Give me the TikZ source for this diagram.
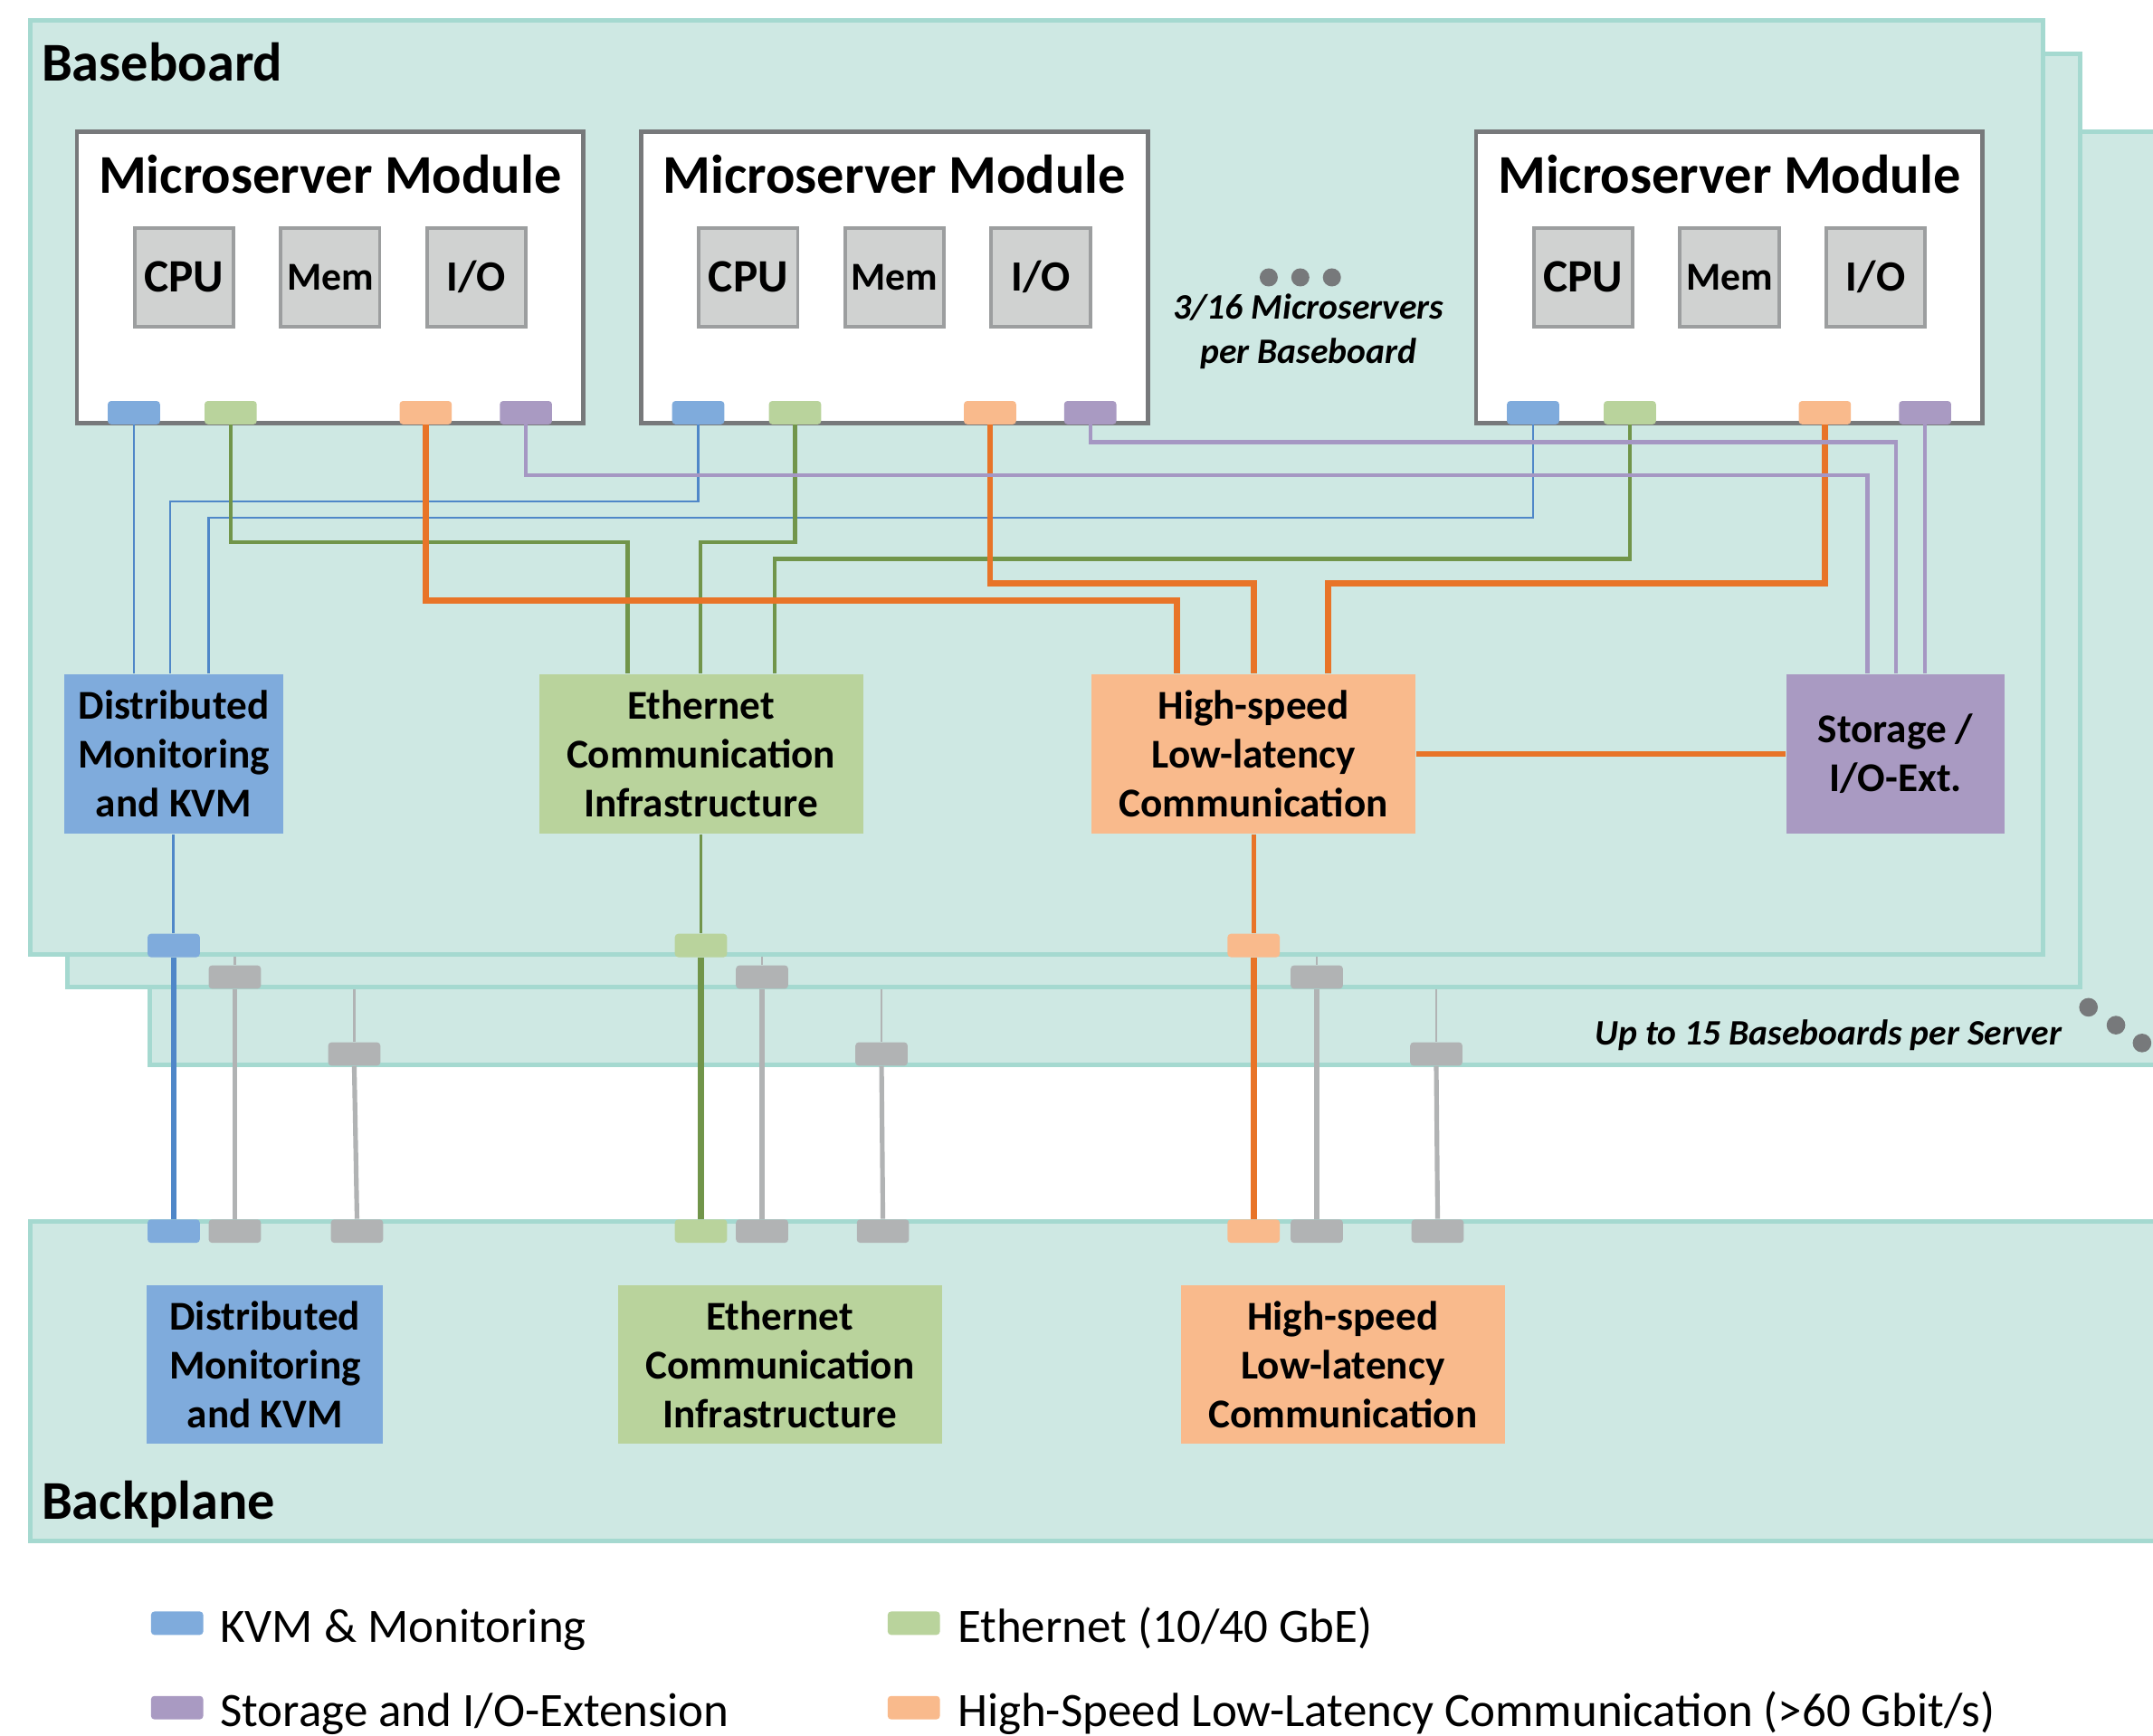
\documentclass[tikz,border=0pt]{standalone}
\usepackage{fontspec}
\setmainfont{Carlito}
\definecolor{boardfill}{HTML}{CEE8E3}
\definecolor{boardline}{HTML}{A5D9D0}
\definecolor{modline}{HTML}{77797B}
\definecolor{chipfill}{HTML}{D0D2D1}
\definecolor{chipline}{HTML}{9C9E9F}
\definecolor{kvmfill}{HTML}{7FABDC}
\definecolor{kvmline}{HTML}{4F87C8}
\definecolor{ethfill}{HTML}{B9D39C}
\definecolor{ethline}{HTML}{71954A}
\definecolor{hsfill}{HTML}{F9BA8C}
\definecolor{hsline}{HTML}{E87428}
\definecolor{stfill}{HTML}{A99AC2}
\definecolor{stline}{HTML}{A597C3}
\definecolor{grayconn}{HTML}{B1B3B4}
\definecolor{dotgray}{HTML}{77797B}
\begin{document}
\begin{tikzpicture}[x=0.5pt,y=-0.5pt,
  board/.style={fill=boardfill,draw=boardline,line width=1.6pt},
  module/.style={draw=modline,fill=white,line width=1.6pt,minimum width=184.5pt,minimum height=106pt,inner sep=0pt},
  chip/.style={draw=chipline,fill=chipfill,line width=1.3pt,minimum width=36pt,minimum height=36pt,inner sep=0pt,text depth=0pt},
  port/.style={minimum width=19pt,minimum height=8.5pt,inner sep=0pt,rounded corners=1.2pt},
  func/.style={minimum height=58pt,inner sep=0pt,align=center,font=\fontsize{14.9}{17.8}\selectfont\bfseries},
  title/.style={font=\fontsize{19.9}{23}\selectfont\bfseries,inner sep=0pt},
  kvm/.style={draw=kvmline,line width=0.8pt},
  eth/.style={draw=ethline,line width=1.4pt},
  hs/.style={draw=hsline,line width=2.2pt},
  st/.style={draw=stline,line width=1.4pt},
  trunk/.style={line width=2.2pt},
  thingray/.style={draw=grayconn,line width=0.8pt},
  thickgray/.style={draw=grayconn,line width=1.7pt},
  legtext/.style={anchor=base west,inner sep=0pt,font=\fontsize{17.45}{21}\selectfont},
  note/.style={inner sep=0pt,font=\fontsize{13.05}{15}\selectfont\bfseries\itshape}
]
\useasboundingbox (0,0) rectangle (1568,1264);
\clip (0,0) rectangle (1568,1264);
\fill[white] (0,0) rectangle (1568,1264);

% ---------- third (back) baseboard ----------
\draw[board] (109,96) rectangle (1640,775.5);
\node[port,fill=grayconn] (g3B) at (258,767.5) {};
\node[port,fill=grayconn] (g3E) at (642,767.5) {};
\node[port,fill=grayconn] (g3H) at (1046,767.5) {};
\draw[thingray] (g3B.north) -- ++(0,-50);
\draw[thingray] (g3E.north) -- ++(0,-50);
\draw[thingray] (g3H.north) -- ++(0,-50);
\node[note,anchor=base east] (upto) at (1502,761) {Up to 15 Baseboards per Server};
\fill[dotgray] (1521,733.5) circle[radius=3.4pt];
\fill[dotgray] (1541,746.5) circle[radius=3.4pt];
\fill[dotgray] (1560,759.5) circle[radius=3.4pt];

% ---------- second baseboard ----------
\draw[board] (49,39) rectangle (1515,719);
\node[port,fill=grayconn] (g2B) at (171,711.5) {};
\node[port,fill=grayconn] (g2E) at (555,711.5) {};
\node[port,fill=grayconn] (g2H) at (959,711.5) {};
\draw[thingray] (g2B.north) -- ++(0,-30);
\draw[thingray] (g2E.north) -- ++(0,-30);
\draw[thingray] (g2H.north) -- ++(0,-30);

% ---------- front baseboard ----------
\draw[board] (22,15) rectangle (1488,695);
\node[title,anchor=base west] (bbtitle) at (30,59.3) {Baseboard};

\foreach \n/\l in {1/56,2/467,3/1075}{
  \pgfmathsetmacro\cx{\l+184.5}
  \node[module] (m\n) at (\cx,202) {};
  \node[title,anchor=base] (m\n t) at (\cx,140.6) {Microserver Module};
  \node[chip,text height=10.7pt,font=\fontsize{16.9}{20}\selectfont\bfseries] (m\n cpu) at (\cx-106.5,202) {CPU};
  \node[chip,text height=9.1pt,font=\fontsize{14.4}{17}\selectfont\bfseries] (m\n mem) at (\cx,202) {Mem};
  \node[chip,text height=9.9pt,font=\fontsize{15.7}{18}\selectfont\bfseries] (m\n io) at (\cx+106.5,202) {I/O};
  \node[port,fill=kvmfill] (p\n b) at (\l+41.5,300.5) {};
  \node[port,fill=ethfill] (p\n g) at (\l+112,300.5) {};
  \node[port,fill=hsfill] (p\n o) at (\l+254,300.5) {};
  \node[port,fill=stfill] (p\n p) at (\l+327,300.5) {};
}

\fill[dotgray] (924,202) circle[radius=3.3pt];
\fill[dotgray] (947,202) circle[radius=3.3pt];
\fill[dotgray] (970,202) circle[radius=3.3pt];
\node[note,anchor=base] (msa) at (953,232.5) {3/16 Microservers};
\node[note,anchor=base] (msb) at (953,264.7) {per Baseboard};

% function blocks on baseboard
\node[func,fill=kvmfill,minimum width=79.5pt] (fB) at (126.5,549) {Distributed\\Monitoring\\and KVM};
\node[func,fill=ethfill,minimum width=118pt] (fE) at (510.5,549) {Ethernet\\Communication\\Infrastructure};
\node[func,fill=hsfill,minimum width=118pt] (fH) at (913,549) {High-speed\\Low-latency\\Communication};
\node[func,fill=stfill,minimum width=79.5pt] (fS) at (1380.5,549) {Storage /\\I/O-Ext.};

% KVM lines
\draw[kvm] (p1b.south) -- (p1b.south |- fB.north);
\draw[kvm] (p2b.south) |- (124,365) -- (124,0 |- fB.north);
\draw[kvm] (p3b.south) |- (152,377) -- (152,0 |- fB.north);
% Ethernet lines
\draw[eth] (p1g.south) |- (457,395) -- (457,0 |- fE.north);
\draw[eth] (p2g.south) |- (510,395) -- (510,0 |- fE.north);
\draw[eth] (p3g.south) |- (564,407) -- (564,0 |- fE.north);
% High-speed lines
\draw[hs] (p1o.south) |- (857,437.5) -- (857,0 |- fH.north);
\draw[hs] (p2o.south) |- (913,425) -- (913,0 |- fH.north);
\draw[hs] (p3o.south) |- (967,425) -- (967,0 |- fH.north);
\draw[hs] (fH.east) -- (fS.west);
% Storage lines
\draw[st] (p1p.south) |- (1360,346) -- (1360,0 |- fS.north);
\draw[st] (p2p.south) |- (1381,322) -- (1381,0 |- fS.north);
\draw[st] (p3p.south) -- (p3p.south |- fS.north);

% front board connectors
\node[port,fill=kvmfill] (cB) at (126.5,688.5) {};
\node[port,fill=ethfill] (cE) at (510.5,688.5) {};
\node[port,fill=hsfill] (cH) at (913,688.5) {};
\draw[kvm,line width=1pt] (fB.south) -- (cB.north);
\draw[eth,line width=1.2pt] (fE.south) -- (cE.north);
\draw[hs,line width=1.6pt] (fH.south) -- (cH.north);

% ---------- backplane ----------
\draw[board] (22,889.5) rectangle (1640,1122);
\node[title,anchor=base west] (bptitle) at (30,1106) {Backplane};
\node[func,fill=kvmfill,minimum width=86pt,minimum height=57.5pt] (bpB) at (193,993.5) {Distributed\\Monitoring\\and KVM};
\node[func,fill=ethfill,minimum width=118pt,minimum height=57.5pt] (bpE) at (568,993.5) {Ethernet\\Communication\\Infrastructure};
\node[func,fill=hsfill,minimum width=118pt,minimum height=57.5pt] (bpH) at (978,993.5) {High-speed\\Low-latency\\Communication};

\node[port,fill=kvmfill] (bB) at (126.5,896.5) {};
\node[port,fill=grayconn] (b2B) at (171,896.5) {};
\node[port,fill=grayconn] (b3B) at (260,896.5) {};
\node[port,fill=ethfill] (bE) at (510.5,896.5) {};
\node[port,fill=grayconn] (b2E) at (555,896.5) {};
\node[port,fill=grayconn] (b3E) at (643,896.5) {};
\node[port,fill=hsfill] (bH) at (913,896.5) {};
\node[port,fill=grayconn] (b2H) at (959,896.5) {};
\node[port,fill=grayconn] (b3H) at (1047,896.5) {};

% vertical trunks between baseboards and backplane
\draw[thickgray] (g2B.south) -- (b2B.north);
\draw[thickgray] (g3B.south) -- (b3B.north);
\draw[thickgray] (g2E.south) -- (b2E.north);
\draw[thickgray] (g3E.south) -- (b3E.north);
\draw[thickgray] (g2H.south) -- (b2H.north);
\draw[thickgray] (g3H.south) -- (b3H.north);
\draw[trunk,draw=kvmline] (cB.south) -- (bB.north);
\draw[trunk,draw=ethline] (cE.south) -- (bE.north);
\draw[trunk,draw=hsline] (cH.south) -- (bH.north);

% ---------- legend ----------
\node[port,fill=kvmfill] (lB) at (129,1182) {};
\node[port,fill=stfill] (lS) at (129,1243.5) {};
\node[port,fill=ethfill] (lE) at (665.5,1182) {};
\node[port,fill=hsfill] (lH) at (665.5,1243.5) {};
\node[legtext] (tB) at (160,1196) {KVM \& Monitoring};
\node[legtext] (tS) at (160,1257) {Storage and I/O-Extension};
\node[legtext] (tE) at (697,1196) {Ethernet (10/40 GbE)};
\node[legtext] (tH) at (697,1257) {High-Speed Low-Latency Communication (>60 Gbit/s)};
\end{tikzpicture}
\end{document}
